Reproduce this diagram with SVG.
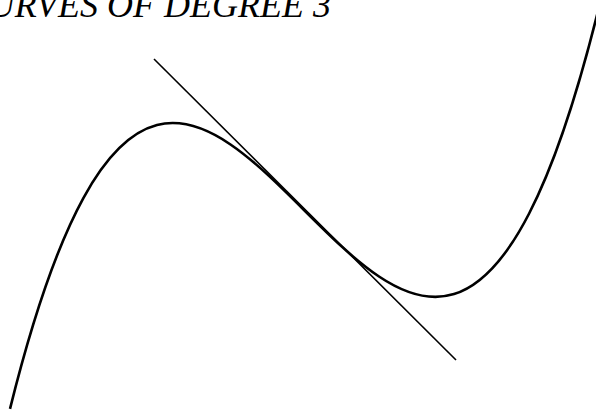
<svg xmlns="http://www.w3.org/2000/svg" width="596" height="418" viewBox="0 0 596 418">
<style>
.t{font-family:"Liberation Serif","Times New Roman",serif;font-style:italic;font-size:36px;fill:#000}
.c{fill:none;stroke:#000;stroke-width:2.6}
.l{fill:none;stroke:#000;stroke-width:1.6}
</style>
<rect width="596" height="418" fill="#fff"/>
<g id="title"><text class="t" x="331" y="17" text-anchor="end">CURVES OF DEGREE 3</text></g>
<g id="curve"><path class="c" d="M10,408.85 C208,-387.4 406,823.6 604,-13.6"/></g>
<g id="connectors"><line class="l" x1="154" y1="59" x2="456" y2="360"/></g>
</svg>
